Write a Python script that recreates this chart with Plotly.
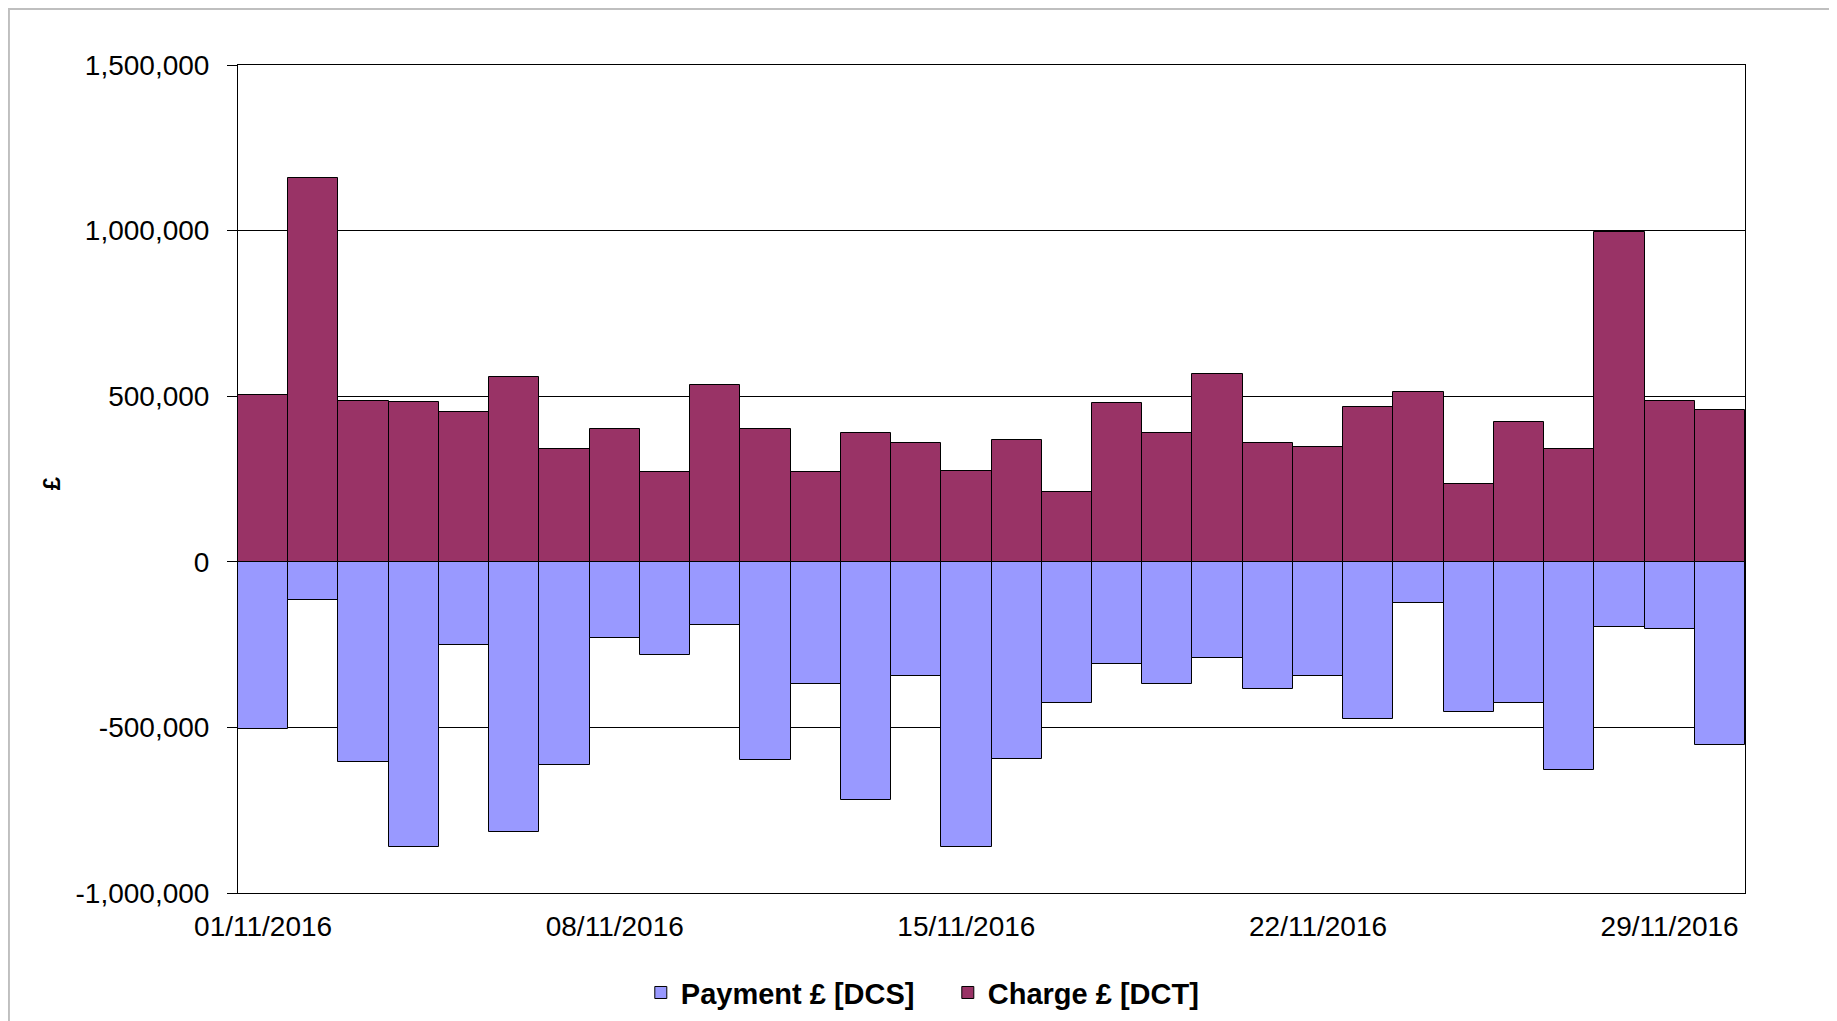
import plotly.graph_objects as go

# categories: each day of November 2016
dates = [f"{d:02d}/11/2016" for d in range(1, 31)]

payment = [-504000, -115000, -605000, -860000, -250000, -817000, -615000, -230000,
           -280000, -192000, -599000, -370000, -720000, -346000, -860000, -595000,
           -427000, -308000, -370000, -289000, -385000, -346000, -476000, -124000,
           -452000, -427000, -629000, -197000, -202000, -553000]

charge = [505000, 1158000, 485000, 481000, 452000, 557000, 341000, 400000,
          270000, 533000, 400000, 270000, 390000, 360000, 274000, 369000,
          212000, 480000, 389000, 566000, 360000, 346000, 467000, 513000,
          236000, 423000, 341000, 995000, 485000, 457000]

x_ticks = ["01/11/2016", "08/11/2016", "15/11/2016", "22/11/2016", "29/11/2016"]
y_ticks = [-1000000, -500000, 0, 500000, 1000000, 1500000]
y_ticktext = ["-1,000,000", "-500,000", "0", "500,000", "1,000,000", "1,500,000"]

FONT = "Liberation Sans, Arial, sans-serif"

fig = go.Figure()
fig.add_trace(go.Bar(x=dates, y=payment, name="Payment £ [DCS]",
                     marker=dict(color="#9999FF", line=dict(color="black", width=1))))
fig.add_trace(go.Bar(x=dates, y=charge, name="Charge £ [DCT]",
                     marker=dict(color="#993366", line=dict(color="black", width=1))))

# page body has an 8px margin, so the figure is a little smaller than the window
fig.update_layout(
    width=1829, height=1013,
    margin=dict(l=230, r=92, t=57, b=128),
    barmode="relative", bargap=0,
    plot_bgcolor="white", paper_bgcolor="white",
    font=dict(family=FONT, size=28, color="black"),
    legend=dict(orientation="h", xref="paper", x=0.471, xanchor="center",
                yref="container", y=0.028, yanchor="middle",
                font=dict(family=FONT, size=29, weight="bold"), traceorder="normal",
                entrywidth=262, entrywidthmode="pixels"),
    showlegend=True,
)

fig.update_xaxes(type="category", range=[-0.5, 29.5], tickvals=x_ticks, ticktext=x_ticks,
                 showline=True, linecolor="black", linewidth=1, mirror=True,
                 ticks="", showgrid=False, tickfont=dict(size=28), ticklabelstandoff=8)
fig.update_yaxes(range=[-1000000, 1500000], tickvals=y_ticks, ticktext=y_ticktext,
                 showline=True, linecolor="black", linewidth=1, mirror=True,
                 ticks="outside", ticklen=10, tickcolor="black",
                 showgrid=True, gridcolor="black", gridwidth=1,
                 zeroline=True, zerolinecolor="black", zerolinewidth=2,
                 tickfont=dict(size=28), ticklabelstandoff=12)

# rotated axis title
fig.add_annotation(text="<b>£</b>", xref="paper", yref="paper", x=-0.124, y=0.495,
                   xanchor="center", yanchor="middle",
                   textangle=-90, showarrow=False, font=dict(size=24))

# outer chart border (bottom edge runs off the page, as in the original)
fig.add_shape(type="rect", xref="paper", yref="paper",
              x0=-0.152, x1=1.0591, y0=-0.2, y1=1.0676,
              line=dict(color="#BFBFBF", width=2), layer="below")

fig.write_html("out.html")
